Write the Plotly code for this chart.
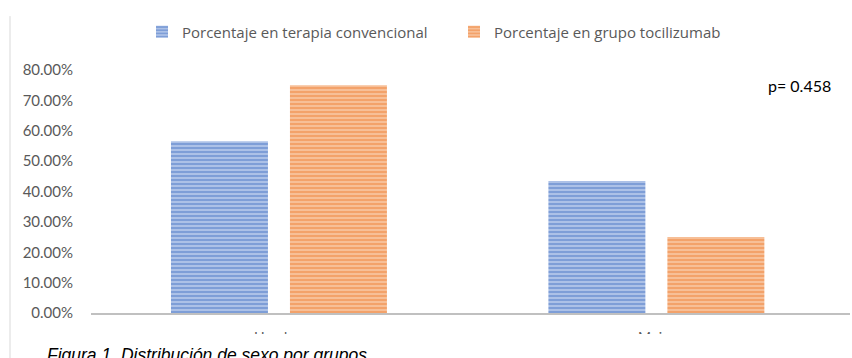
import plotly.graph_objects as go

# Sex distribution by treatment group
categorias = ["Hombre", "Mujer"]
serie_convencional = [0.5652, 0.4348]
serie_tocilizumab = [0.75, 0.25]
nombres = ["Porcentaje en terapia convencional", "Porcentaje en grupo tocilizumab"]
ticks_y = [0, 0.1, 0.2, 0.3, 0.4, 0.5, 0.6, 0.7, 0.8]
texto_p = "p= 0.458"
pie_figura = "Figura 1. Distribución de sexo por grupos"

W, H = 852, 358
ML, MR, MT, MB = 91, 2, 70, 44.5
plot_h = H - MT - MB
plot_w = W - ML - MR

def py(px):
    """pixel row -> paper y"""
    return (H - MB - px) / plot_h

def px_(x):
    """pixel column -> paper x"""
    return (x - ML) / plot_w

fig = go.Figure()
fig.add_trace(go.Bar(
    x=categorias, y=serie_convencional, name=nombres[0],
    marker=dict(color="#4472C4", line=dict(width=0),
                pattern=dict(shape="-", size=4, solidity=0.6,
                             fgcolor="#4472C4", bgcolor="#B8CAEB")),
))
fig.add_trace(go.Bar(
    x=categorias, y=serie_tocilizumab, name=nombres[1],
    marker=dict(color="#ED7D31", line=dict(width=0),
                pattern=dict(shape="-", size=4, solidity=0.6,
                             fgcolor="#ED7D31", bgcolor="#F8C6A3")),
))

fig.update_layout(
    width=W, height=H,
    margin=dict(l=ML, r=MR, t=MT, b=MB, pad=0),
    paper_bgcolor="white", plot_bgcolor="white",
    barmode="group", bargap=0.3695, bargroupgap=0.185,
    font=dict(family="Lato, Liberation Sans, sans-serif", color="#595959", size=14),
    showlegend=True,
    legend=dict(orientation="h", x=px_(142), xanchor="left", y=py(32), yanchor="middle",
                font=dict(size=15, color="#595959", family="Open Sans, sans-serif"),
                itemwidth=30, entrywidth=267, entrywidthmode="pixels",
                traceorder="normal", bgcolor="rgba(0,0,0,0)"),
    xaxis=dict(range=[-0.498, 1.513], showline=True, linecolor="#C0C0C0", linewidth=2,
               showgrid=False, ticks="", tickfont=dict(size=14, color="#595959"),
               ticklabelstandoff=10, zeroline=False, fixedrange=True),
    yaxis=dict(range=[0, 0.8], tickvals=ticks_y, tickformat=".2%", showgrid=False,
               zeroline=False, showline=False, ticks="", ticklabelstandoff=17,
               tickfont=dict(size=15, color="#595959"), fixedrange=True),
    shapes=[
        # white band clipping the lower part of the category labels
        dict(type="rect", xref="paper", yref="paper", x0=0, x1=1.01,
             y0=py(H + 5), y1=py(334.5), fillcolor="white", line=dict(width=0),
             layer="above"),
        # left border of the chart frame
        dict(type="line", xref="paper", yref="paper", x0=px_(10), x1=px_(10),
             y0=py(H + 5), y1=py(16), line=dict(color="#D9D9D9", width=1),
             layer="above"),
    ],
    annotations=[
        dict(text=texto_p, xref="paper", yref="paper", x=px_(833), y=py(86),
             xanchor="right", yanchor="middle", showarrow=False,
             font=dict(size=16, color="#000000", family="Lato, Liberation Sans, sans-serif")),
        dict(text="<i>" + pie_figura + "</i>", xref="paper", yref="paper",
             x=px_(45), y=py(355.5), xanchor="left", yanchor="middle", showarrow=False,
             font=dict(size=17.5, color="#000000", family="Liberation Sans, Arial, sans-serif")),
    ],
)

fig.write_html("out.html")
